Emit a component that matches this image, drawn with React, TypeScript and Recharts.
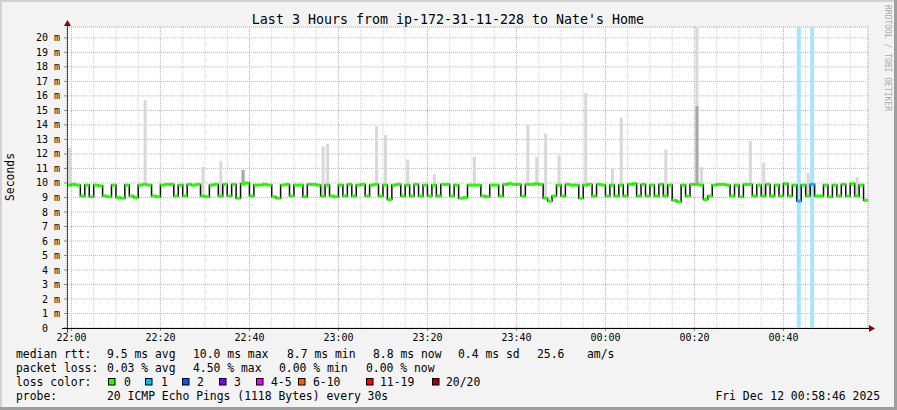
import React from "react";
import { ComposedChart, Line, Bar, XAxis, YAxis, CartesianGrid } from "recharts";

const W = 897;
const H = 410;
const Y_TOP = 20.75;
const MONO = "'DejaVu Sans Mono', monospace";

// x axis: minutes since 22:00, one sample per minute
const xTicks = [0, 20, 40, 60, 80, 100, 120, 140, 160];
const xTickLabels = ["22:00", "22:20", "22:40", "23:00", "23:20", "23:40", "00:00", "00:20", "00:40"];
const xMinorTicks = [0, 5, 10, 15, 20, 25, 30, 35, 40, 45, 50, 55, 60, 65, 70, 75, 80, 85, 90, 95, 100, 105, 110, 115, 120, 125, 130, 135, 140, 145, 150, 155, 160, 165, 170, 175];
const yTicks = [0, 1, 2, 3, 4, 5, 6, 7, 8, 9, 10, 11, 12, 13, 14, 15, 16, 17, 18, 19, 20];
const yMinorTicks = [0.5, 1.5, 2.5, 3.5, 4.5, 5.5, 6.5, 7.5, 8.5, 9.5, 10.5, 11.5, 12.5, 13.5, 14.5, 15.5, 16.5, 17.5, 18.5, 19.5, 20.5];

// median rtt (ms), one value per minute starting 21:59
const median = [
  9.85, 9.9, 9.85, 9.1, 9.85, 9.05, 9.85, 9.8, 9.1, 9.05,
  9.85, 9.0, 8.95, 9.85, 9.1, 9.0, 9.85, 9.9, 9.85, 9.1,
  9.05, 9.85, 9.9, 9.9, 9.1, 9.85, 9.1, 9.9, 9.85, 9.9,
  9.1, 9.05, 9.85, 9.9, 9.1, 9.9, 9.1, 9.9, 8.95, 9.95,
  10.0, 9.1, 9.85, 9.85, 9.9, 9.85, 9.05, 8.95, 9.85, 9.9,
  9.1, 9.85, 9.85, 9.05, 9.9, 9.9, 9.85, 9.1, 9.85, 9.1,
  9.05, 9.85, 9.1, 9.9, 9.1, 9.85, 9.9, 9.1, 9.85, 9.9,
  9.1, 9.85, 8.85, 9.85, 9.9, 9.1, 9.85, 9.1, 9.9, 9.1,
  9.85, 9.1, 9.85, 9.1, 9.9, 9.9, 9.1, 9.85, 8.95, 9.0,
  9.85, 9.85, 9.85, 9.1, 9.05, 9.85, 9.85, 9.1, 9.9, 9.95,
  9.9, 9.9, 9.1, 9.9, 9.9, 9.95, 9.9, 8.95, 8.75, 9.1,
  9.85, 9.1, 9.9, 9.85, 9.85, 8.95, 9.85, 9.9, 9.1, 9.9,
  9.85, 9.1, 9.85, 9.1, 9.85, 9.1, 9.9, 9.95, 9.1, 9.9,
  9.1, 9.85, 9.1, 9.9, 9.1, 9.85, 8.8, 8.7, 9.85, 9.1,
  9.9, 9.9, 9.85, 8.85, 9.1, 9.85, 9.9, 9.9, 9.85, 9.1,
  9.85, 9.05, 9.9, 9.9, 9.1, 9.85, 9.1, 9.9, 9.1, 9.85,
  9.1, 9.95, 9.1, 9.85, 8.75, 9.85, 9.1, 9.9, 9.1, 9.1,
  9.85, 9.05, 9.85, 9.1, 9.9, 9.1, 9.95, 9.1, 9.85, 8.8,
];

// smoke spikes: minute index and top of the light smoke (ms)
const spikeAt = [0, 17, 30, 34, 39, 57, 58, 69, 71, 76, 82, 91, 103, 105, 107, 110, 116, 122, 124, 134, 141, 142, 153, 156, 166, 177];
const spikeTop = [12.4, 15.7, 11.1, 11.5, 10.9, 12.5, 12.7, 13.9, 13.3, 11.6, 10.6, 11.8, 14.0, 11.8, 13.4, 11.9, 16.2, 11.0, 14.5, 12.3, 20.7, 11.1, 12.9, 11.4, 10.7, 10.4];
// darker smoke parts
const darkAt = [39, 141];
const darkTop = [10.9, 15.3];
// minutes with packet loss
const lossAt = [164, 167];
const lossCount = [1, 1];

const lossColors = ["#26ff00", "#00b8ff", "#0059ff", "#7e00ff", "#ee00ff", "#ff5e00", "#ff0000", "#a10000"];
const lossLabels = ["0", "1", "2", "3", "4-5", "6-10", "11-19", "20/20"];
const lossBoxX = [108, 145, 182, 219, 256, 298, 366, 432];
const lossTextX = [124, 161, 197, 234, 271, 313, 380, 446];

const rows = median.map((v, i) => {
  const s = spikeAt.indexOf(i);
  const d = darkAt.indexOf(i);
  const l = lossAt.indexOf(i);
  return {
    t: i - 0.5,
    median: v,
    smoke: s >= 0 ? [v, spikeTop[s]] : null,
    dark: d >= 0 ? [v, darkTop[d]] : null,
    band: l >= 0 ? [0, Y_TOP] : null,
    loss: l >= 0 ? lossCount[l] : 0,
  };
});

const STEP_PX = (W - 67 - 29) / 180;

const renderDash = (p: any) => {
  if (p.cx == null || p.cy == null) return <g key={p.index} />;
  const color = lossColors[p.payload.loss] || lossColors[0];
  return <rect key={p.index} x={p.cx - STEP_PX / 2} y={p.cy - 1.5} width={STEP_PX} height={3} fill={color} />;
};

const legendRows = [
  { y: 358, items: [[16, "median rtt:"], [107, "9.5 ms avg"], [193, "10.0 ms max"], [287, "8.7 ms min"], [373, "8.8 ms now"], [458, "0.4 ms sd"], [537, "25.6"], [587, "am/s"]] },
  { y: 372, items: [[16, "packet loss:"], [107, "0.03 % avg"], [193, "4.50 % max"], [279, "0.00 % min"], [366, "0.00 % now"]] },
  { y: 386, items: [[16, "loss color:"]] },
  { y: 400, items: [[16, "probe:"], [107, "20 ICMP Echo Pings (1118 Bytes) every 30s"]] },
];

export default function App() {
  const axisTick = { fontSize: 10, fontFamily: MONO, fill: "#000" };
  return (
    <div style={{ position: "absolute", left: 0, top: 0, width: W, height: H, background: "#f3f3f3" }}>
      <ComposedChart width={W} height={H} data={rows} margin={{ top: 27, right: 29, bottom: 62, left: 0 }}>
        <XAxis xAxisId="main" dataKey="t" type="number" domain={[-1, 179]} ticks={xTicks} interval={0}
          tickFormatter={(v: number) => xTickLabels[xTicks.indexOf(v)]} height={20}
          axisLine={false} tickLine={{ stroke: "#888" }} tickSize={3} tickMargin={3} tick={axisTick} />
        <XAxis xAxisId="minor" dataKey="t" type="number" domain={[-1, 179]} ticks={xMinorTicks} interval={0} height={0} hide />
        <XAxis xAxisId="smoke" dataKey="t" type="number" domain={[-1, 179]} height={0} hide />
        <XAxis xAxisId="dark" dataKey="t" type="number" domain={[-1, 179]} height={0} hide />
        <XAxis xAxisId="band" dataKey="t" type="number" domain={[-1, 179]} height={0} hide />
        <YAxis yAxisId="main" type="number" domain={[0, Y_TOP]} ticks={yTicks} interval={0} width={67}
          tickFormatter={(v: number) => (v === 0 ? "0\u00a0\u00a0" : `${v} m`)}
          axisLine={false} tickLine={{ stroke: "#888" }} tickSize={3} tickMargin={4} tick={axisTick} />
        <YAxis yAxisId="minor" type="number" domain={[0, Y_TOP]} ticks={yMinorTicks} interval={0} width={0} hide />
        <CartesianGrid xAxisId="minor" yAxisId="minor" fill="#fff" stroke="#cfcfcf" strokeDasharray="1 1" />
        <CartesianGrid xAxisId="main" yAxisId="main" stroke="#f2a0a0" strokeDasharray="1 1" />
        <Bar xAxisId="band" yAxisId="main" dataKey="band" fill="#a8e4fa" barSize={5} isAnimationActive={false} />
        <Bar xAxisId="smoke" yAxisId="main" dataKey="smoke" fill="#d8d8d8" barSize={3} isAnimationActive={false} />
        <Bar xAxisId="dark" yAxisId="main" dataKey="dark" fill="#a8a8a8" barSize={3} isAnimationActive={false} />
        <Line xAxisId="main" yAxisId="main" dataKey="median" type="step" stroke="#111" strokeWidth={1.5}
          dot={renderDash} activeDot={false} isAnimationActive={false} />
      </ComposedChart>
      <svg width={W} height={H} style={{ position: "absolute", left: 0, top: 0, pointerEvents: "none" }}>
        <line x1={0} y1={1} x2={W} y2={1} stroke="#d2d2d2" strokeWidth={2} />
        <line x1={1} y1={0} x2={1} y2={H} stroke="#d2d2d2" strokeWidth={2} />
        <line x1={0} y1={H - 1.5} x2={W} y2={H - 1.5} stroke="#9e9e9e" strokeWidth={3} />
        <line x1={W - 1.5} y1={0} x2={W - 1.5} y2={H} stroke="#9e9e9e" strokeWidth={3} />
        <text x={448} y={24} textAnchor="middle" fontFamily={MONO} fontSize={13.3} fill="#000">
          Last 3 Hours from ip-172-31-11-228 to Nate's Home
        </text>
        <text transform="translate(14,177) rotate(-90)" textAnchor="middle" fontFamily={MONO} fontSize={11.4} fill="#000">
          Seconds
        </text>
        <text transform="translate(885,5) rotate(90)" fontFamily={MONO} fontSize={8} fill="#aaa">
          RRDTOOL / TOBI OETIKER
        </text>
        {/* axes with arrows */}
        <line x1={67.5} y1={333} x2={67.5} y2={24} stroke="#444" strokeWidth={1} />
        <polygon points="64,26 71,26 67.5,20" fill="#8b0000" />
        <line x1={62} y1={328.5} x2={870} y2={328.5} stroke="#000" strokeWidth={1} />
        <polygon points="869,325 869,332 875,328.5" fill="#8b0000" />
        {legendRows.map((r) =>
          r.items.map(([x, s]) => (
            <text key={`${r.y}-${x}`} x={x as number} y={r.y} fontFamily={MONO} fontSize={11.4} fill="#000" style={{ whiteSpace: "pre" }}>
              {s}
            </text>
          ))
        )}
        {lossColors.map((c, i) => (
          <g key={c}>
            <rect x={lossBoxX[i] + 0.5} y={378.5} width={6.5} height={6.5} fill={c} stroke="#000" strokeWidth={1} />
            <text x={lossTextX[i]} y={386} fontFamily={MONO} fontSize={11.4} fill="#000">{lossLabels[i]}</text>
          </g>
        ))}
        <text x={880} y={400} textAnchor="end" fontFamily={MONO} fontSize={11.4} fill="#000">
          Fri Dec 12 00:58:46 2025
        </text>
      </svg>
    </div>
  );
}
